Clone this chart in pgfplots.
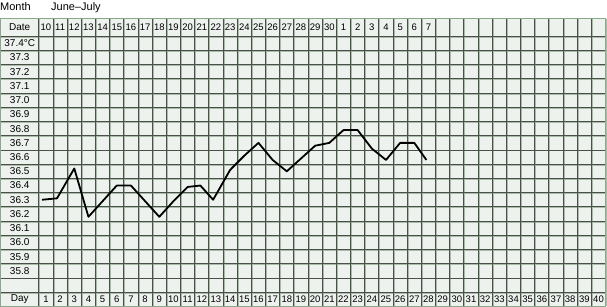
\documentclass[border=0pt]{standalone}
\usepackage{fontspec}
\setmainfont{Liberation Sans}
\usepackage{pgfplots}
\pgfplotsset{compat=1.18}
\definecolor{bg}{HTML}{EEF2EE}
\definecolor{gridd}{HTML}{485048}
\definecolor{gridl}{HTML}{AABBAA}
\definecolor{framec}{HTML}{8CA88C}
\begin{document}
\begin{tikzpicture}
\path[use as bounding box] (0,0) rectangle (607bp,307bp);
\begin{axis}[at={(0.6bp,0.6bp)}, anchor=south west, scale only axis,
  width=605bp, height=287.8bp,
  xmin=-2.2, xmax=40.5, ymin=35.55, ymax=37.574,
  axis line style={draw=none},
  axis background/.style={fill=bg},
  xtick=\empty, ytick=\empty, clip=false]
% light shadow lines
\pgfplotsinvokeforeach{0.5,1.5,...,40.5}{
  \draw[gridl, line width=1bp] ([xshift=1bp]axis cs:#1,35.55) -- ([xshift=1bp]axis cs:#1,37.574);
}
\pgfplotsinvokeforeach{35.65,35.75,35.85,35.95,36.05,36.15,36.25,36.35,36.45,36.55,36.65,36.75,36.85,36.95,37.05,37.15,37.25,37.35,37.45}{
  \draw[gridl, line width=1bp] ([yshift=-1bp]axis cs:-2.2,#1) -- ([yshift=-1bp]axis cs:40.5,#1);
}
% dark lines
\pgfplotsinvokeforeach{0.5,1.5,...,40.5}{
  \draw[gridd, line width=0.9bp] (axis cs:#1,35.55) -- (axis cs:#1,37.574);
}
\pgfplotsinvokeforeach{35.65,35.75,35.85,35.95,36.05,36.15,36.25,36.35,36.45,36.55,36.65,36.75,36.85,36.95,37.05,37.15,37.25,37.35,37.45}{
  \draw[gridd, line width=0.9bp] (axis cs:-2.2,#1) -- (axis cs:40.5,#1);
}
% left column labels
\node[font=\fontsize{10bp}{11bp}\selectfont] at (axis cs:-0.85,37.512) {Date};
\node[font=\fontsize{10bp}{11bp}\selectfont] at (axis cs:-0.85,37.4) {37.4°C};
\pgfplotsinvokeforeach{35.8,35.9,36.0,36.1,36.2,36.3,36.4,36.5,36.6,36.7,36.8,36.9,37.0,37.1,37.2,37.3}{
  \node[font=\fontsize{10bp}{11bp}\selectfont] at (axis cs:-0.85,#1) {#1};
}
\node[font=\fontsize{10bp}{11bp}\selectfont] at (axis cs:-0.85,35.6) {Day};
% date row
\pgfplotsinvokeforeach{10,...,30}{
  \node[font=\fontsize{9.5bp}{10bp}\selectfont, inner sep=0pt] at (axis cs:{#1-9},37.512) {#1};
}
\pgfplotsinvokeforeach{1,...,7}{
  \node[font=\fontsize{9.5bp}{10bp}\selectfont, inner sep=0pt] at (axis cs:{#1+21},37.512) {#1};
}
% day row
\pgfplotsinvokeforeach{1,...,40}{
  \node[font=\fontsize{9.5bp}{10bp}\selectfont, inner sep=0pt] at (axis cs:#1,35.6) {#1};
}
% temperature curve
\addplot[black, line width=1.8bp, line join=round] coordinates {
(0.72,36.30) (1.78,36.31) (3,36.52) (4,36.18) (5,36.29) (6,36.40) (7,36.40)
(8,36.29) (9,36.18) (10,36.29) (11,36.39) (11.9,36.40) (12.8,36.30)
(14,36.51) (15,36.61) (16,36.70) (17,36.58) (18,36.50) (19,36.59)
(20,36.68) (21,36.70) (22,36.79) (23,36.79) (24,36.66) (25,36.58)
(26,36.70) (27,36.70) (27.85,36.58)
};
\draw[framec, line width=1.4bp] (rel axis cs:0,0) rectangle (rel axis cs:1,1);
\end{axis}
\node[anchor=base west, inner sep=0pt, font=\fontsize{11bp}{13bp}\selectfont] at (0bp,296bp) {Month};
\node[anchor=base west, inner sep=0pt, font=\fontsize{11bp}{13bp}\selectfont] at (51bp,296bp) {June–July};
\end{tikzpicture}
\end{document}
